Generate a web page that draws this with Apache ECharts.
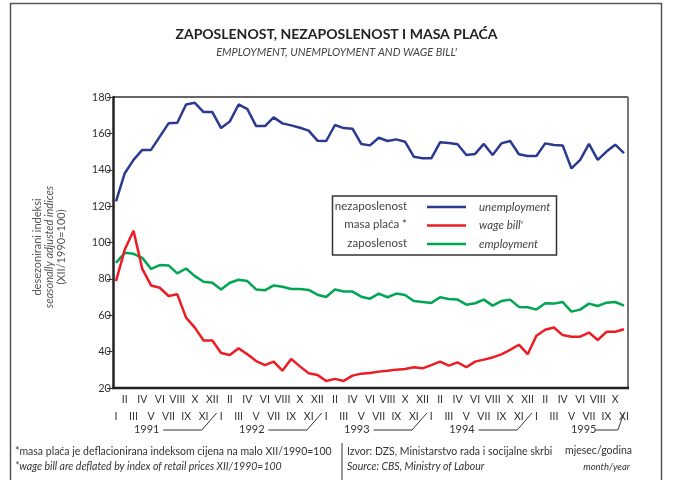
<!DOCTYPE html>
<html lang="hr">
<head>
    <meta charset="UTF-8">
    <title>Zaposlenost, nezaposlenost i masa plaća</title>
    <script src="https://cdn.jsdelivr.net/npm/echarts@6/dist/echarts.min.js"></script>
    <style>
        body { margin: 0; background: #ffffff; }
        #main { width: 673px; height: 480px; }
    </style>
</head>
<body>
<div id="main"></div>
<script>
    // mjeseci I/1991 - XI/1995
    var romans = ['I', 'II', 'III', 'IV', 'V', 'VI', 'VII', 'VIII', 'IX', 'X', 'XI', 'XII'];
    var years = [1991, 1992, 1993, 1994, 1995];
    var months = [];
    years.forEach(function (y) {
        romans.forEach(function (r) { months.push(r + '/' + y); });
    });
    months = months.slice(0, 59);

    // nezaposlenost / unemployment
    var unemployment = [122.6, 138.1, 145.4, 150.9, 150.9, 158.2, 165.5, 165.8, 175.9, 176.8, 171.7, 171.7,
        162.9, 166.6, 175.9, 173.3, 164.0, 164.0, 168.8, 165.5, 164.4, 163.1, 161.5, 156.0,
        155.8, 164.6, 162.9, 162.6, 154.2, 153.4, 157.6, 155.8, 156.7, 155.4, 147.2, 146.3,
        146.3, 155.1, 154.7, 154.0, 148.1, 148.7, 154.2, 148.1, 154.5, 155.8, 148.5, 147.6,
        147.6, 154.5, 153.6, 153.4, 140.7, 145.4, 154.2, 145.4, 150.0, 153.8, 149.1];
    // masa plaća / wage bill
    var wageBill = [78.8, 96.1, 106.5, 85.5, 76.4, 75.1, 70.6, 71.5, 58.7, 53.2, 46.1, 46.1,
        39.2, 38.1, 41.8, 38.6, 34.8, 32.6, 34.5, 29.5, 35.9, 31.9, 28.1, 27.2,
        23.9, 25.0, 23.9, 26.8, 27.9, 28.2, 29.0, 29.5, 30.1, 30.4, 31.4, 30.8,
        32.6, 34.5, 32.3, 34.1, 31.4, 34.5, 35.6, 36.8, 38.5, 41.0, 43.8, 38.6,
        48.7, 52.0, 53.3, 49.1, 48.2, 48.2, 50.5, 46.4, 50.9, 50.9, 52.3];
    // zaposlenost / employment
    var employment = [88.8, 94.3, 93.8, 91.6, 85.5, 87.6, 87.4, 83.0, 85.7, 81.5, 78.4, 77.9,
        74.2, 77.9, 79.5, 78.8, 74.2, 73.7, 76.4, 75.7, 74.4, 74.4, 73.9, 71.3,
        70.0, 74.2, 73.1, 73.0, 70.2, 69.1, 71.9, 69.9, 71.9, 71.1, 67.8, 67.3,
        66.8, 69.9, 68.9, 68.6, 65.8, 66.6, 68.6, 65.3, 67.8, 68.6, 64.6, 64.4,
        63.1, 66.6, 66.4, 67.3, 62.0, 63.1, 66.4, 65.1, 66.9, 67.3, 65.3];

    var font = 'Lato, "Open Sans", sans-serif';
    var chart = echarts.init(document.getElementById('main'));

    var option = {
        backgroundColor: '#ffffff',
        animation: false,
        textStyle: { fontFamily: font },
        title: {
            text: 'ZAPOSLENOST, NEZAPOSLENOST I MASA PLAĆA',
            subtext: "EMPLOYMENT, UNEMPLOYMENT AND WAGE BILL'",
            left: 'center',
            top: 21,
            itemGap: 4,
            textStyle: { fontFamily: font, fontSize: 14, fontWeight: 'bold', color: '#222', lineHeight: 16 },
            subtextStyle: { fontFamily: font, fontSize: 11, fontStyle: 'italic', color: '#444', lineHeight: 13 }
        },
        legend: {
            orient: 'vertical',
            left: 422,
            top: 195,
            icon: 'rect',
            itemWidth: 39,
            itemHeight: 2.5,
            itemGap: 4.5,
            textStyle: { fontFamily: font, fontSize: 11.5, fontStyle: 'italic', color: '#444', lineHeight: 14, padding: [0, 0, 0, 8] },
            data: ['unemployment', "wage bill'", 'employment']
        },
        grid: { left: 116, right: 49, top: 97, bottom: 92 },
        xAxis: {
            type: 'category',
            data: months,
            boundaryGap: false,
            axisLine: { show: false },
            axisTick: { show: false },
            splitLine: { show: false },
            axisLabel: {
                interval: 0,
                margin: 3,
                fontSize: 10.5,
                color: '#333',
                lineHeight: 17,
                formatter: function (value, index) {
                    var m = index % 12;
                    return m % 2 === 1 ? romans[m] : '\n' + romans[m];
                }
            }
        },
        yAxis: {
            type: 'value',
            min: 20,
            max: 180,
            interval: 20,
            offset: 3,
            axisLine: { show: true, lineStyle: { color: '#222', width: 2.5 } },
            axisTick: { show: true, length: 6, lineStyle: { color: '#333', width: 1 } },
            splitLine: { show: false },
            axisLabel: { margin: 2, fontSize: 11, color: '#333' }
        },
        series: [
            {
                name: 'unemployment', type: 'line', data: unemployment,
                showSymbol: false, lineStyle: { width: 2.5, color: '#2b3990' }, itemStyle: { color: '#2b3990' }
            },
            {
                name: 'employment', type: 'line', data: employment,
                showSymbol: false, lineStyle: { width: 2.5, color: '#00a651' }, itemStyle: { color: '#00a651' }
            },
            {
                name: "wage bill'", type: 'line', data: wageBill,
                showSymbol: false, lineStyle: { width: 2.5, color: '#ed1c24' }, itemStyle: { color: '#ed1c24' }
            }
        ]
    };
    chart.setOption(option);

    // okvir, legenda, godine i napomene
    var x0 = chart.convertToPixel({ xAxisIndex: 0 }, 0);
    var x58 = chart.convertToPixel({ xAxisIndex: 0 }, 58);
    var step = (x58 - x0) / 58;
    function px(i) { return x0 + i * step; }

    var g = [];
    // vanjski okvir
    g.push({ type: 'rect', shape: { x: 10.5, y: 3.5, width: 651, height: 490 }, style: { fill: 'none', stroke: '#555', lineWidth: 1.5 } });
    // okvir grafa
    g.push({ type: 'line', shape: { x1: 113, y1: 97, x2: 628, y2: 97 }, style: { stroke: '#333', lineWidth: 1.5 } });
    g.push({ type: 'line', shape: { x1: 628, y1: 97, x2: 628, y2: 388 }, style: { stroke: '#777', lineWidth: 2 } });
    g.push({ type: 'line', shape: { x1: 112, y1: 388, x2: 629, y2: 388 }, style: { stroke: '#222', lineWidth: 2.5 } });

    // legenda okvir + hrvatski nazivi
    g.push({ type: 'rect', shape: { x: 332.5, y: 196, width: 224, height: 59 }, style: { fill: 'none', stroke: '#333', lineWidth: 1.5 } });
    var hrNames = ['nezaposlenost', 'masa plaća *', 'zaposlenost'];
    hrNames.forEach(function (t, i) {
        g.push({ type: 'text', x: 407, y: 206 + i * 18.5, style: { text: t, font: '11.5px ' + font, fill: '#444', align: 'right', verticalAlign: 'middle' } });
    });

    // naziv y osi
    var yNames = [
        { t: 'desezonirani indeksi', x: 37, s: 'normal' },
        { t: 'seasonally adjusted indices', x: 49, s: 'italic' },
        { t: '(XII/1990=100)', x: 61, s: 'normal' }
    ];
    yNames.forEach(function (n) {
        g.push({ type: 'text', x: n.x, y: 247, rotation: Math.PI / 2,
            style: { text: n.t, font: n.s + ' 11px ' + font, fill: '#555', align: 'center', verticalAlign: 'middle' } });
    });

    // godine sa zagradama
    years.forEach(function (y, k) {
        var last = k === years.length - 1;
        var tx = last ? px(53.4) : px(12 * k + 3.5);
        var l1 = last ? px(54.7) : px(12 * k + 5.4);
        var l2 = last ? px(57.3) : px(12 * k + 9.8);
        var l3 = last ? px(58) : px(12 * k + 11.5);
        g.push({ type: 'text', x: tx, y: 429, style: { text: String(y), font: '11px ' + font, fill: '#333', align: 'center', verticalAlign: 'middle' } });
        g.push({ type: 'polyline', shape: { points: [[l1, 430], [l2, 430], [l3, 413]] }, style: { fill: 'none', stroke: '#333', lineWidth: 1 } });
    });

    // napomene
    g.push({ type: 'text', x: 15, y: 452, style: { text: '*masa plaća je deflacionirana indeksom cijena na malo XII/1990=100', font: '10.5px ' + font, fill: '#333', verticalAlign: 'middle' } });
    g.push({ type: 'text', x: 15, y: 467, style: { text: '*wage bill are deflated by index of retail prices XII/1990=100', font: 'italic 10.5px ' + font, fill: '#333', verticalAlign: 'middle' } });
    g.push({ type: 'line', shape: { x1: 342, y1: 443, x2: 342, y2: 480 }, style: { stroke: '#333', lineWidth: 1 } });
    g.push({ type: 'text', x: 347, y: 452, style: { text: 'Izvor: DZS, Ministarstvo rada i socijalne skrbi', font: '10.5px ' + font, fill: '#333', verticalAlign: 'middle' } });
    g.push({ type: 'text', x: 347, y: 467, style: { text: 'Source: CBS, Ministry of Labour', font: 'italic 10.5px ' + font, fill: '#333', verticalAlign: 'middle' } });
    g.push({ type: 'text', x: 632, y: 451, style: { text: 'mjesec/godina', font: '10.5px ' + font, fill: '#333', align: 'right', verticalAlign: 'middle' } });
    g.push({ type: 'text', x: 630, y: 467, style: { text: 'month/year', font: 'italic 9.5px ' + font, fill: '#333', align: 'right', verticalAlign: 'middle' } });

    chart.setOption({ graphic: g });
</script>
</body>
</html>
